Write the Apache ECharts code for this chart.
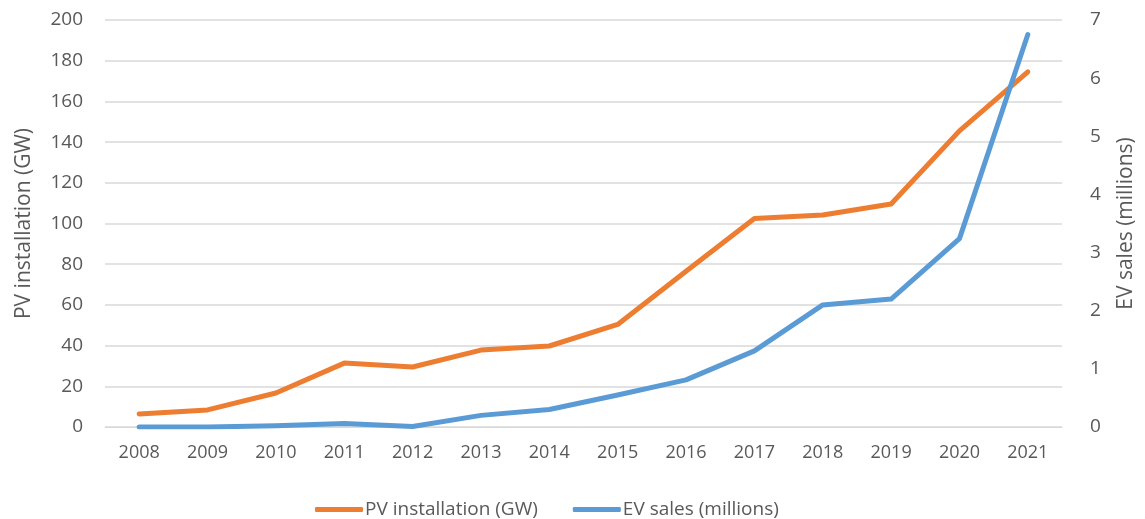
<!DOCTYPE html>
<html>
<head>
<meta charset="utf-8">
<script src="https://cdn.jsdelivr.net/npm/echarts@6/dist/echarts.min.js"></script>
<style>
  html, body { margin: 0; padding: 0; background: #fff; }
  #chart { width: 1145px; height: 519px; }
</style>
</head>
<body>
<div id="chart"></div>
<script>
var years = ['2008','2009','2010','2011','2012','2013','2014','2015','2016','2017','2018','2019','2020','2021'];
var pvInstall = [6.4, 8.4, 16.7, 31.4, 29.5, 37.8, 39.8, 50.4, 76.5, 102.5, 104.2, 109.6, 145.5, 174.5];
var evSales = [0.0, 0.0, 0.02, 0.06, 0.01, 0.2, 0.3, 0.55, 0.81, 1.31, 2.1, 2.2, 3.24, 6.75];

var textColor = '#595959';
var font = '"Open Sans", "Liberation Sans", sans-serif';

var chart = echarts.init(document.getElementById('chart'));
var option = {
    animation: false,
    color: ['#ED7D31', '#5B9BD5'],
    textStyle: { fontFamily: font, color: textColor },
    grid: { left: 105, right: 78, top: 20, bottom: 92 },
    legend: {
        top: 495,
        left: 310,
        icon: 'roundRect',
        itemWidth: 48,
        itemHeight: 5,
        itemGap: 35,
        textStyle: { fontSize: 19, color: textColor, fontFamily: font, padding: [0, 0, 0, -3] },
        data: ['PV installation (GW)', 'EV sales (millions)']
    },
    xAxis: {
        type: 'category',
        data: years,
        boundaryGap: true,
        axisLine: { lineStyle: { color: '#D9D9D9', width: 1 } },
        axisTick: { show: false },
        axisLabel: { color: textColor, fontSize: 18, margin: 17, fontFamily: font }
    },
    yAxis: [
        {
            type: 'value',
            min: 0, max: 200, interval: 20,
            name: 'PV installation (GW)',
            nameLocation: 'middle',
            nameGap: 70,
            nameTextStyle: { fontSize: 21, color: textColor, fontFamily: font },
            axisLine: { show: false },
            axisTick: { show: false },
            axisLabel: { color: textColor, fontSize: 19, margin: 22, fontFamily: font },
            splitLine: { lineStyle: { color: '#D9D9D9', width: 1.5 } }
        },
        {
            type: 'value',
            min: 0, max: 7, interval: 1,
            name: 'EV sales (millions)',
            nameLocation: 'middle',
            nameGap: 54,
            nameTextStyle: { fontSize: 21, color: textColor, fontFamily: font },
            axisLine: { show: false },
            axisTick: { show: false },
            axisLabel: { color: textColor, fontSize: 19, margin: 28, fontFamily: font },
            splitLine: { show: false }
        }
    ],
    series: [
        {
            name: 'PV installation (GW)',
            type: 'line',
            yAxisIndex: 0,
            data: pvInstall,
            showSymbol: false,
            lineStyle: { width: 5, cap: 'round', join: 'round' }
        },
        {
            name: 'EV sales (millions)',
            type: 'line',
            yAxisIndex: 1,
            data: evSales,
            showSymbol: false,
            lineStyle: { width: 5, cap: 'round', join: 'round' }
        }
    ]
};
chart.setOption(option);
</script>
</body>
</html>
